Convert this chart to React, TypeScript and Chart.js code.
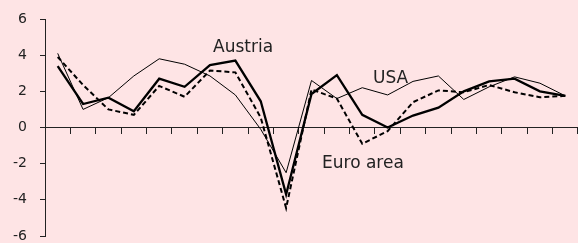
import React, { useEffect, useRef } from "react";
import { Chart, registerables } from "chart.js";

Chart.register(...registerables);

const years = [
  "2000", "2001", "2002", "2003", "2004", "2005", "2006", "2007", "2008", "2009", "2010",
  "2011", "2012", "2013", "2014", "2015", "2016", "2017", "2018", "2019", "2020",
];
const austria = [3.4, 1.3, 1.65, 0.9, 2.7, 2.25, 3.45, 3.7, 1.45, -3.7, 1.85, 2.9, 0.7, 0.0, 0.66, 1.1, 2.0, 2.55, 2.7, 2.0, 1.75];
const usa = [4.1, 1.0, 1.65, 2.85, 3.8, 3.5, 2.85, 1.8, -0.1, -2.5, 2.6, 1.6, 2.2, 1.8, 2.55, 2.85, 1.55, 2.25, 2.8, 2.45, 1.75];
const euroArea = [3.9, 2.35, 1.0, 0.7, 2.3, 1.7, 3.15, 3.05, 0.55, -4.45, 2.1, 1.6, -0.9, -0.2, 1.4, 2.05, 1.95, 2.35, 1.95, 1.67, 1.75];
const yTicks = [-6, -4, -2, 0, 2, 4, 6];

const seriesLabels = [
  { text: "Austria", x: 213, y: 52 },
  { text: "USA", x: 373, y: 83 },
  { text: "Euro area", x: 322, y: 168 },
];

const BG = "#fee4e5";
const FONT = "'DejaVu Sans', sans-serif";

export default function App() {
  const ref = useRef<HTMLCanvasElement>(null);

  useEffect(() => {
    const labelPlugin = {
      id: "seriesLabels",
      afterDatasetsDraw(chart: any) {
        const ctx = chart.ctx;
        ctx.save();
        ctx.fillStyle = "#222";
        ctx.font = `17px ${FONT}`;
        ctx.textBaseline = "alphabetic";
        ctx.textAlign = "left";
        seriesLabels.forEach((l) => ctx.fillText(l.text, l.x, l.y));
        ctx.restore();
      },
    };

    const chart = new Chart(ref.current!, {
      type: "line",
      data: {
        labels: years,
        datasets: [
          { label: "USA", data: usa, borderColor: "#000", borderWidth: 1, pointRadius: 0, tension: 0 },
          { label: "Euro area", data: euroArea, borderColor: "#000", borderWidth: 2, borderDash: [5, 3], pointRadius: 0, tension: 0 },
          { label: "Austria", data: austria, borderColor: "#000", borderWidth: 2.3, pointRadius: 0, tension: 0 },
        ],
      },
      options: {
        animation: false,
        responsive: false,
        maintainAspectRatio: false,
        layout: { padding: { top: 19, bottom: 7, left: 0, right: 0 } },
        plugins: { legend: { display: false }, tooltip: { enabled: false } },
        scales: {
          x: {
            type: "category",
            offset: true,
            position: { y: 0 } as any,
            grid: { offset: true, drawOnChartArea: false, drawTicks: true, tickLength: 6, color: "#222" },
            border: { display: true, color: "#222", width: 1 },
            ticks: { display: false },
          },
          y: {
            min: -6,
            max: 6,
            afterBuildTicks: (scale: any) => {
              scale.ticks = yTicks.map((v) => ({ value: v }));
            },
            afterFit: (scale: any) => {
              scale.width = 45;
              scale.paddingTop = 7;
              scale.paddingBottom = 7;
            },
            grid: { drawOnChartArea: false, drawTicks: true, tickLength: 5, color: "#222" },
            border: { display: true, color: "#222", width: 1 },
            ticks: {
              color: "#222",
              padding: 13,
              font: { family: FONT, size: 14, lineHeight: 1 },
            },
          },
        },
      },
      plugins: [labelPlugin],
    });
    return () => chart.destroy();
  }, []);

  return (
    <div style={{ position: "fixed", left: 0, top: 0, width: 578, height: 243, background: BG }}>
      <canvas ref={ref} width={578} height={243} style={{ display: "block" }} />
    </div>
  );
}
